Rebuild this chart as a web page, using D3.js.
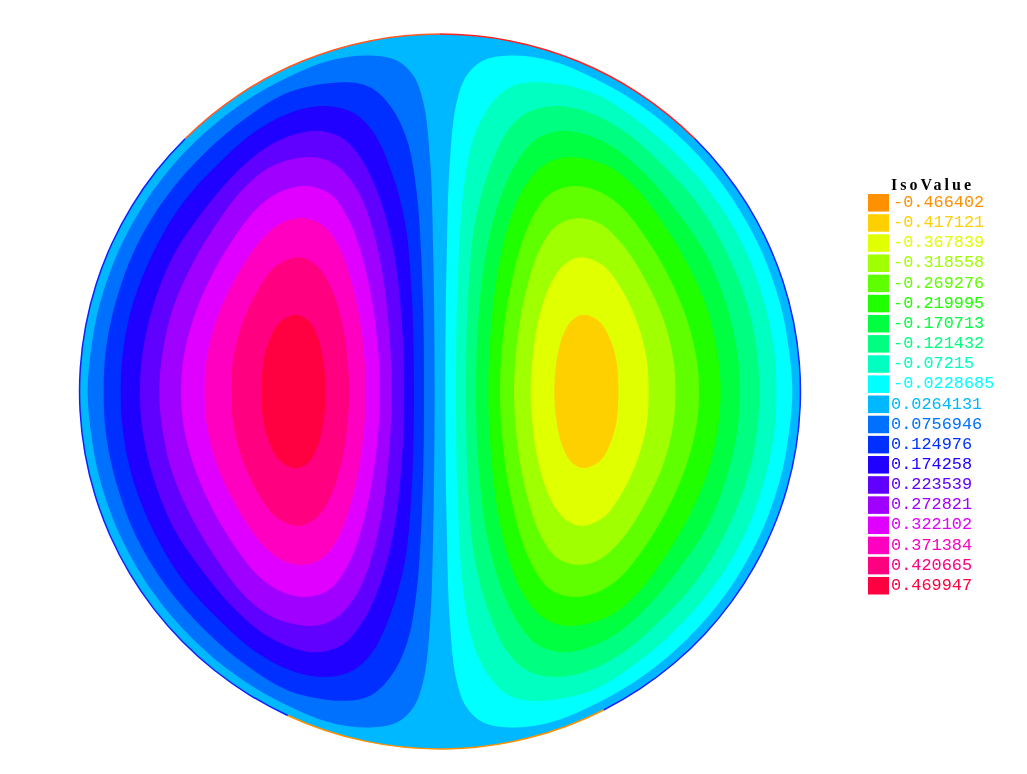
<!DOCTYPE html>
<html><head><meta charset="utf-8">
<script src="https://d3js.org/d3.v7.min.js"></script>
<style>html,body{margin:0;padding:0;background:#fff}svg{display:block}</style>
</head><body><svg id="c" width="1027" height="774"></svg>
<script>
// Legend
const isoLabels = ["-0.466402","-0.417121","-0.367839","-0.318558","-0.269276","-0.219995","-0.170713","-0.121432","-0.07215","-0.0228685","0.0264131","0.0756946","0.124976","0.174258","0.223539","0.272821","0.322102","0.371384","0.420665","0.469947"];
const isoColors = ["#ff9000","#ffd000","#e0ff00","#a0ff00","#60ff00","#20ff00","#00ff40","#00ff80","#00ffc0","#00ffff","#00b8ff","#0070ff","#0030ff","#2000ff","#6000ff","#a000ff","#e000ff","#ff00c0","#ff0080","#ff0040"];

// Upper half of each iso-line (left lobe, outer to inner)
const leftLobeLevels = ["0.0756946","0.124976","0.174258","0.223539","0.272821","0.322102","0.371384","0.420665","0.469947"];
const leftLobe = [
 [[53,1098],[65,960],[90,833],[150,667],[250,494],[370,354],[500,245],[640,162],[780,105],[900,90],[980,105],[1030,150],[1060,230],[1080,400],[1090,700],[1094,1098]],
 [[101,1098],[108,970],[140,820],[200,660],[290,512],[405,382],[530,276],[660,199],[820,170],[900,185],[960,240],[1010,340],[1040,500],[1058,800],[1062,1098]],
 [[152,1098],[160,970],[190,830],[250,680],[340,530],[450,410],[560,315],[680,255],[775,242],[850,262],[910,320],[965,440],[1005,590],[1025,800],[1032,1098]],
 [[210,1098],[218,980],[250,840],[310,690],[390,570],[490,450],[590,365],[680,325],[745,316],[820,340],[880,410],[930,520],[970,670],[995,880],[1002,1098]],
 [[268,1098],[275,1000],[305,860],[360,730],[430,610],[520,490],[610,420],[730,395],[800,420],[860,490],[905,600],[940,760],[960,950],[965,1098]],
 [[333,1098],[340,1000],[370,880],[420,760],[490,640],[570,540],[640,495],[715,482],[780,505],[830,570],[870,670],[905,820],[925,980],[930,1098]],
 [[404,1098],[410,1000],[440,880],[490,770],[560,660],[630,595],[700,578],[760,600],[810,670],[850,790],[875,920],[888,1098]],
 [[484,1098],[490,1000],[515,900],[560,800],[620,720],[688,695],[740,720],[785,790],[820,910],[835,1030],[838,1098]],
 [[575,1098],[580,1010],[600,940],[630,890],[678,868],[715,885],[745,940],[762,1020],[767,1098]]
];
// Right lobe, outer to inner
const rightLobeLevels = ["-0.0228685","-0.07215","-0.121432","-0.170713","-0.219995","-0.269276","-0.318558","-0.367839","-0.417121"];
const rightLobe = [
 [[1087,1098],[1075,960],[1050,833],[990,667],[890,494],[770,354],[640,245],[500,162],[360,105],[240,90],[160,105],[110,150],[80,230],[60,400],[50,700],[46,1098]],
 [[1039,1098],[1032,970],[1000,820],[940,660],[850,512],[735,382],[610,276],[480,199],[320,170],[240,185],[180,240],[130,340],[100,500],[82,800],[78,1098]],
 [[988,1098],[980,970],[950,830],[890,680],[800,530],[690,410],[580,315],[460,255],[365,242],[290,262],[230,320],[175,440],[135,590],[115,800],[108,1098]],
 [[930,1098],[922,980],[890,840],[830,690],[750,570],[650,450],[550,365],[460,325],[395,316],[320,340],[260,410],[210,520],[170,670],[145,880],[138,1098]],
 [[872,1098],[865,1000],[835,860],[780,730],[710,610],[620,490],[530,420],[410,395],[340,420],[280,490],[235,600],[200,760],[180,950],[175,1098]],
 [[807,1098],[800,1000],[770,880],[720,760],[650,640],[570,540],[500,495],[425,482],[360,505],[310,570],[270,670],[235,820],[215,980],[210,1098]],
 [[736,1098],[730,1000],[700,880],[650,770],[580,660],[510,595],[440,578],[380,600],[330,670],[290,790],[265,920],[252,1098]],
 [[656,1098],[650,1000],[625,900],[580,800],[520,720],[452,695],[400,720],[355,790],[320,910],[305,1030],[302,1098]],
 [[565,1098],[560,1010],[540,940],[510,890],[462,868],[425,885],[395,940],[378,1020],[373,1098]]
];
// Rim segments: start and end angle in degrees clockwise from the top, and the colour of each
const rimStart = [-45,0,45,153,205];
const rimEnd   = [0,45,153,205,315];
const rimColor = ["#ff5a20","#ff2020","#1020ff","#ff9000","#1020ff"];

const svg = d3.select("#c");
const colorOf = d3.scaleOrdinal().domain(isoLabels).range(isoColors);

// Scales
const xLeft = d3.scaleLinear().domain([0,1140]).range([70,450]);
const xRight = d3.scaleLinear().domain([0,1140]).range([430,810]);
const y = d3.scaleLinear().domain([0,2196]).range([25.5,757.5]);
const diskCx = 440, diskCy = 391.5, diskRx = 360.5, diskRy = 357.5;

const plot = svg.append("g").style("filter","blur(0.5px)");
plot.append("ellipse").attr("cx",diskCx).attr("cy",diskCy).attr("rx",diskRx).attr("ry",diskRy).attr("fill",colorOf("0.0264131"));

const closedCurve = d3.curveCatmullRomClosed.alpha(0.5);
function fullLoop(half){
  const lower = half.slice(1,-1).reverse().map(([a,b])=>[a,2196-b]);
  return half.concat(lower);
}
function drawLobe(lobes, levels, xs){
  const line = d3.line().x(d=>xs(d[0])).y(d=>y(d[1])).curve(closedCurve);
  plot.append("g").selectAll("path").data(lobes).join("path")
    .attr("d",d=>line(fullLoop(d)))
    .attr("fill",(d,i)=>colorOf(levels[i]));
}
drawLobe(leftLobe,leftLobeLevels,xLeft);
drawLobe(rightLobe,rightLobeLevels,xRight);

// Rim
const rimArc = d3.arc().innerRadius(359.7).outerRadius(361.2);
plot.append("g").attr("transform",`translate(${diskCx},${diskCy}) scale(1,${diskRy/diskRx})`)
  .selectAll("path").data(rimStart).join("path")
  .attr("d",(d,i)=>rimArc({startAngle:d*Math.PI/180,endAngle:rimEnd[i]*Math.PI/180}))
  .attr("fill",(d,i)=>rimColor[i]);

// Legend
const legendY = d3.scaleBand().domain(isoLabels).range([194,594.5]).paddingInner(0.13).paddingOuter(0);
const leg = svg.append("g").style("filter","blur(0.45px)");
leg.selectAll("rect").data(isoLabels).join("rect")
  .attr("x",868).attr("width",21).attr("y",d=>legendY(d)).attr("height",legendY.bandwidth()).attr("fill",d=>colorOf(d));
leg.append("text").attr("x",891).attr("y",189.5).attr("textLength",80).attr("lengthAdjust","spacing")
  .attr("font-family","Liberation Serif").attr("font-size",16).attr("font-weight","bold").attr("fill","#000").text("IsoValue");
leg.selectAll("text.v").data(isoLabels).join("text").attr("class","v")
  .attr("x",d=>d[0]==="-"?893:891).attr("y",d=>legendY(d)+13)
  .attr("font-family","Liberation Mono").attr("font-size",16.9).attr("fill",d=>colorOf(d)).text(d=>d);
</script></body></html>
